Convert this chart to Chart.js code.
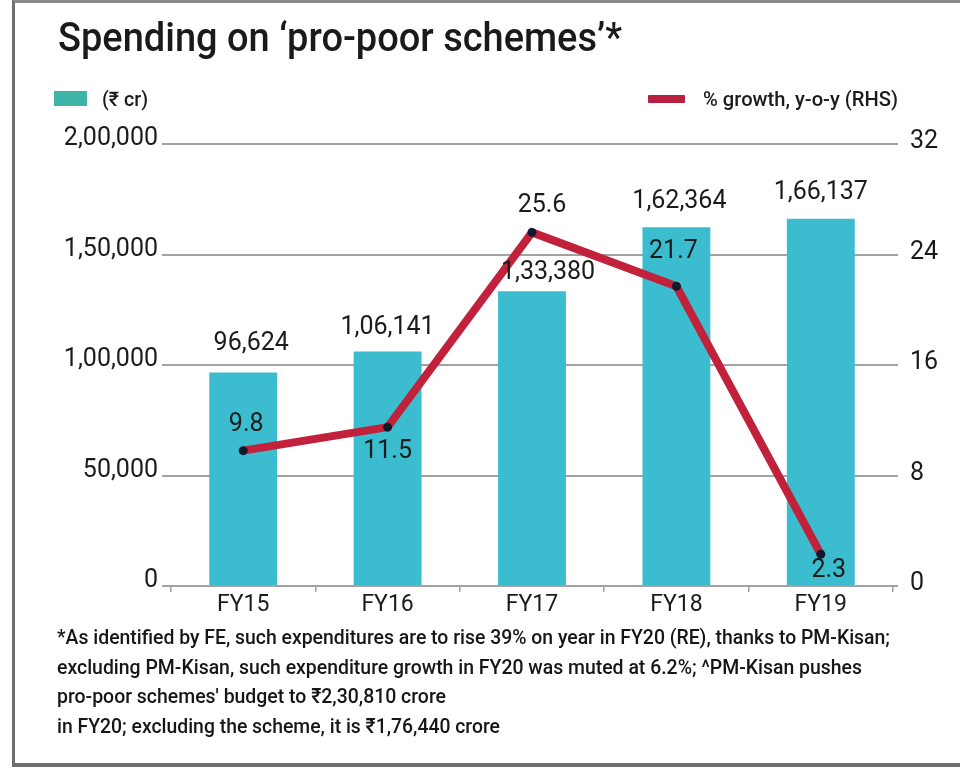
<!DOCTYPE html>
<html>
<head>
<meta charset="utf-8">
<script src="https://cdn.jsdelivr.net/npm/chart.js@4/dist/chart.umd.min.js"></script>
<style>
  html, body { margin:0; padding:0; background:#fff; }
  body { width:960px; height:771px; position:relative; overflow:hidden; font-family: Roboto, "Noto Sans", sans-serif; color:#1b1b1b; }
  #frame { position:absolute; left:12px; top:-1px; width:960px; height:768px; box-sizing:border-box;
           border-left:3px solid #6e6e6e; border-top:4px solid #8a8a8a; border-bottom:4px solid #6e6e6e; }
  canvas { position:absolute; left:0; top:0; }
  .t { position:absolute; white-space:nowrap; line-height:1; transform-origin:left top; }
  #title { left:58px; top:17px; font-size:41px; font-weight:500; color:#1a1a1a; }
  .lg { font-size:20px; top:89px; font-weight:500; color:#1b1b1b; }
  #lgbox { position:absolute; left:54px; top:91px; width:33px; height:15px; background:#3db4a6; }
  #lgline { position:absolute; left:648px; top:95px; width:37px; height:8px; background:#b8203f; border-radius:1px; }
  .fn { font-size:21px; left:57px; font-weight:500; color:#161616; }
</style>
</head>
<body>
<div id="frame"></div>
<canvas id="c" width="960" height="771"></canvas>
<div id="title" class="t" data-w="564">Spending on ‘pro-poor schemes’*</div>
<div id="lgbox"></div>
<div class="t lg" style="left:102px" data-w="46">(₹ cr)</div>
<div id="lgline"></div>
<div class="t lg" style="left:703px" data-w="195">% growth, y-o-y (RHS)</div>
<div class="t fn" style="top:627px" data-w="833">*As identified by FE, such expenditures are to rise 39% on year in FY20 (RE), thanks to PM-Kisan;</div>
<div class="t fn" style="top:657px" data-w="805">excluding PM-Kisan, such expenditure growth in FY20 was muted at 6.2%; ^PM-Kisan pushes</div>
<div class="t fn" style="top:686px" data-w="389">pro-poor schemes' budget to ₹2,30,810 crore</div>
<div class="t fn" style="top:716px" data-w="443">in FY20; excluding the scheme, it is ₹1,76,440 crore</div>
<script>
// ---- data ----
const categories = ['FY15', 'FY16', 'FY17', 'FY18', 'FY19'];
const spending = [96624, 106141, 133380, 162364, 166137];   // ₹ cr (bars, LHS)
const growth = [9.8, 11.5, 25.6, 21.7, 2.3];               // % y-o-y (line, RHS)
const leftTicks = [0, 50000, 100000, 150000, 200000];
const rightTicks = [0, 8, 16, 24, 32];

function indian(n) {
  const s = String(Math.round(n));
  if (s.length <= 3) return s;
  const last3 = s.slice(-3);
  let rest = s.slice(0, -3);
  const parts = [];
  while (rest.length > 2) { parts.unshift(rest.slice(-2)); rest = rest.slice(0, -2); }
  if (rest) parts.unshift(rest);
  return parts.join(',') + ',' + last3;
}

function fitTexts() {
  document.querySelectorAll('.t[data-w]').forEach(el => {
    el.style.transform = 'none';
    const w = el.getBoundingClientRect().width;
    const target = parseFloat(el.dataset.w);
    if (w > 0) el.style.transform = 'scaleX(' + (target / w) + ')';
  });
}
fitTexts();
if (document.fonts && document.fonts.ready) document.fonts.ready.then(fitTexts);

const labelFont = '25px Roboto, "Noto Sans", sans-serif';
const valueLabels = {
  id: 'valueLabels',
  afterDatasetsDraw(chart, args, opts) {
    const ctx = chart.ctx;
    ctx.save();
    ctx.font = labelFont;
    ctx.fillStyle = '#1b1b1b';
    ctx.textAlign = 'center';
    ctx.textBaseline = 'alphabetic';
    chart.getDatasetMeta(0).data.forEach((el, i) => {
      ctx.fillText(indian(spending[i]), el.x + opts.barDx[i], el.y + opts.barDy[i]);
    });
    chart.getDatasetMeta(1).data.forEach((el, i) => {
      ctx.fillText(growth[i].toFixed(1), el.x + opts.lineDx[i], el.y + opts.lineDy[i]);
    });
    ctx.restore();
  }
};

const tickFont = { family: 'Roboto, "Noto Sans", sans-serif', size: 25 };
const gridColor = '#a2a2a2';

new Chart(document.getElementById('c'), {
  data: {
    labels: categories,
    datasets: [
      {
        type: 'bar', label: '(₹ cr)', data: spending, yAxisID: 'y', order: 1,
        backgroundColor: '#3bbccf', barPercentage: 0.47, categoryPercentage: 1.0
      },
      {
        type: 'line', label: '% growth, y-o-y (RHS)', data: growth, yAxisID: 'y1', order: 0,
        borderColor: '#c1213b', borderWidth: 8, tension: 0, fill: false,
        pointRadius: 4.5, pointBackgroundColor: '#111a2c', pointBorderWidth: 0
      }
    ]
  },
  options: {
    responsive: false, animation: false, devicePixelRatio: 1,
    layout: { padding: { top: 144, bottom: 145, left: 0, right: 0 } },
    plugins: {
      legend: { display: false }, tooltip: { enabled: false },
      valueLabels: {
        barDx: [8, 0, 16, 3, 0], barDy: [-22, -17, -12, -19, -20],
        lineDx: [3, 0, 10, -3, 8], lineDy: [-20, 31, -20, -28, 23]
      }
    },
    scales: {
      x: {
        offset: true,
        grid: { offset: true, drawOnChartArea: false, drawTicks: true, tickLength: 6, color: gridColor, lineWidth: 1.5 },
        border: { display: false },
        ticks: { font: { family: tickFont.family, size: 23 }, color: '#1b1b1b', padding: -1, maxRotation: 0 },
        afterFit(s) { s.height = 40; }
      },
      y: {
        position: 'left', min: leftTicks[0], max: leftTicks[leftTicks.length - 1],
        afterBuildTicks(s) { s.ticks = leftTicks.map(v => ({ value: v })); },
        ticks: { callback: v => indian(v), font: tickFont, color: '#1b1b1b', padding: 4, labelOffset: -5 },
        grid: { color: gridColor, lineWidth: 2, drawTicks: true, tickLength: 9 },
        border: { display: false },
        afterFit(s) { s.width = 171; }
      },
      y1: {
        position: 'right', min: rightTicks[0], max: rightTicks[rightTicks.length - 1],
        afterBuildTicks(s) { s.ticks = rightTicks.map(v => ({ value: v })); },
        ticks: { font: tickFont, color: '#1b1b1b', padding: 12, labelOffset: -2 },
        grid: { drawOnChartArea: false, drawTicks: true, tickLength: 5, color: gridColor, lineWidth: 2 },
        border: { display: false },
        afterFit(s) { s.width = 67; }
      }
    }
  },
  plugins: [valueLabels]
});
</script>
</body>
</html>
